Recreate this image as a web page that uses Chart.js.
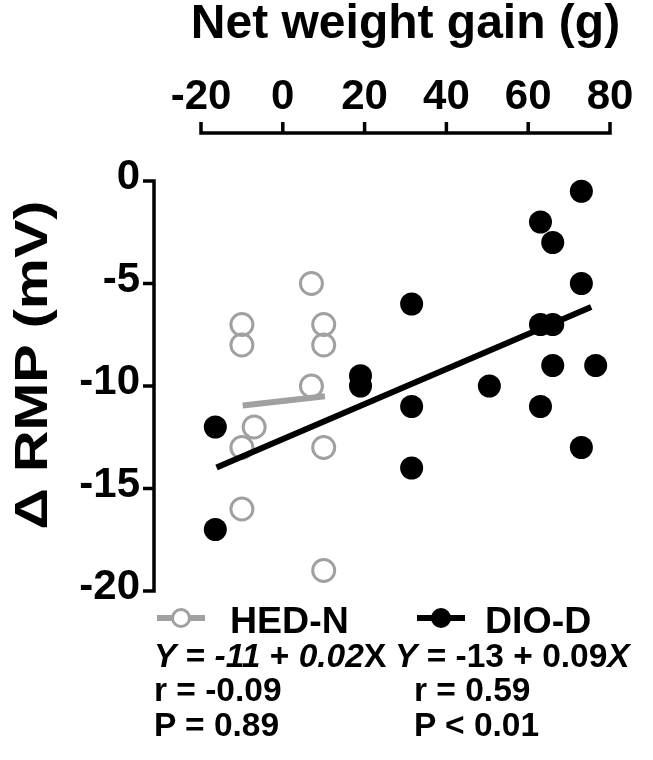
<!DOCTYPE html>
<html>
<head>
<meta charset="utf-8">
<script src="https://cdn.jsdelivr.net/npm/chart.js@4"></script>
<style>
  html, body { margin: 0; padding: 0; background: #fff; }
  #wrap { position: relative; width: 653px; height: 760px; overflow: hidden; }
  #wrap canvas { position: absolute; left: 0; top: 0; }
  .t { position: absolute; font-family: 'Liberation Sans', Arial, sans-serif; font-weight: bold; color: #000; white-space: nowrap; }
  .leg { font-size: 37.5px; line-height: 36px; }
  .st { font-size: 33.5px; line-height: 34px; }
  .mk { position: absolute; }
</style>
</head>
<body>
<div id="wrap">
  <canvas id="chart" width="653" height="760"></canvas>

  <svg class="mk" style="left:157px;top:606px" width="48" height="24">
    <line x1="0" y1="12" x2="48" y2="12" stroke="#a0a0a0" stroke-width="6"/>
    <circle cx="24" cy="12" r="8.5" fill="#fff" stroke="#a0a0a0" stroke-width="3"/>
  </svg>
  <div class="t leg" style="left:230px;top:602px">HED-N</div>
  <svg class="mk" style="left:417px;top:606px" width="48" height="24">
    <line x1="0" y1="12" x2="48" y2="12" stroke="#000" stroke-width="6"/>
    <circle cx="24" cy="12" r="10" fill="#000"/>
  </svg>
  <div class="t leg" style="left:485px;top:602px">DIO-D</div>

  <div class="t st" style="left:154px;top:639px"><i>Y</i> = <i>-11</i> + <i>0.02</i>X</div>
  <div class="t st" style="left:154px;top:673px">r = -0.09</div>
  <div class="t st" style="left:154px;top:708px">P = 0.89</div>

  <div class="t st" style="left:395px;top:639px"><i>Y</i> = -13 + 0.09<i>X</i></div>
  <div class="t st" style="left:414px;top:673px">r = 0.59</div>
  <div class="t st" style="left:414px;top:708px">P &lt; 0.01</div>
</div>

<script>
// HED-N (open grey circles)
const hedX = [7, -10, -10, 10, 10, 7, -7, -10, 10, -10, 10];
const hedY = [-5, -7, -8, -7, -8, -10, -12, -13, -13, -16, -19];
// DIO-D (filled black circles)
const dioX = [-16.5, -16.5, 19, 19, 73, 63, 66, 73, 31.5, 63, 66, 66, 76.5, 50.5, 31.5, 63, 73, 31.5];
const dioY = [-12, -17, -9.5, -10, -0.5, -2, -3, -5, -6, -7, -7, -9, -9, -10, -11, -11, -13, -14];
// regression lines (end points)
const hedFitX = [-9.8, 10.3];
const hedFitY = [-10.95, -10.5];
const dioFitX = [-16.2, 75.4];
const dioFitY = [-13.97, -6.15];

const xTicks = {min: -20, max: 80, step: 20};
const yTicks = {min: -20, max: 0, step: 5};
const xTitle = 'Net weight gain (g)';
const yTitle = 'Δ RMP (mV)';

const GREY = '#a0a0a0';
const FONT = "'Liberation Sans', Arial, sans-serif";

const pts = (xs, ys) => xs.map((x, i) => ({x, y: ys[i]}));

// Prism-style offset axes + axis titles
const prismAxes = {
  id: 'prismAxes',
  beforeDatasetsDraw(chart) {
    const {ctx, chartArea, scales: {x, y}} = chart;
    const xLineY = chartArea.top - 48;
    const yLineX = chartArea.left - 47;
    const tick = 11;
    ctx.save();
    ctx.strokeStyle = '#000';
    ctx.lineWidth = 3.5;
    ctx.lineJoin = 'miter';
    ctx.lineCap = 'butt';

    const x0 = x.getPixelForValue(xTicks.min), x1 = x.getPixelForValue(xTicks.max);
    ctx.beginPath();
    ctx.moveTo(x0, xLineY - tick);
    ctx.lineTo(x0, xLineY);
    ctx.lineTo(x1, xLineY);
    ctx.lineTo(x1, xLineY - tick);
    x.ticks.slice(1, -1).forEach((t) => {
      const px = x.getPixelForValue(t.value);
      ctx.moveTo(px, xLineY);
      ctx.lineTo(px, xLineY - tick);
    });
    ctx.stroke();

    const y0 = y.getPixelForValue(yTicks.max), y1 = y.getPixelForValue(yTicks.min);
    ctx.beginPath();
    ctx.moveTo(yLineX - tick, y0);
    ctx.lineTo(yLineX, y0);
    ctx.lineTo(yLineX, y1);
    ctx.lineTo(yLineX - tick, y1);
    y.ticks.slice(1, -1).forEach((t) => {
      const py = y.getPixelForValue(t.value);
      ctx.moveTo(yLineX, py);
      ctx.lineTo(yLineX - tick, py);
    });
    ctx.stroke();

    ctx.fillStyle = '#000';
    ctx.textAlign = 'center';
    ctx.textBaseline = 'alphabetic';

    // top title
    ctx.font = `bold 48px ${FONT}`;
    ctx.fillText(xTitle, (x0 + x1) / 2, 38);

    // left title, rotated and a little wider like the original
    ctx.translate(47, 365);
    ctx.rotate(-Math.PI / 2);
    ctx.scale(1.25, 1);
    ctx.font = `bold 46px ${FONT}`;
    ctx.fillText(yTitle, 0, 0);
    ctx.restore();
  },
};

new Chart(document.getElementById('chart'), {
  type: 'scatter',
  data: {
    datasets: [
      {
        label: 'DIO-D',
        data: pts(dioX, dioY),
        pointRadius: 11.5,
        pointBorderWidth: 0,
        backgroundColor: '#000',
        borderColor: '#000',
        clip: false,
      },
      {
        label: 'DIO-D fit',
        data: pts(dioFitX, dioFitY),
        showLine: true,
        pointRadius: 0,
        borderColor: '#000',
        borderWidth: 6,
        clip: false,
      },
      {
        label: 'HED-N fit',
        data: pts(hedFitX, hedFitY),
        showLine: true,
        pointRadius: 0,
        borderColor: GREY,
        borderWidth: 6,
        clip: false,
      },
      {
        label: 'HED-N',
        data: pts(hedX, hedY),
        pointRadius: 11,
        pointBorderWidth: 3,
        backgroundColor: 'rgba(0,0,0,0)',
        borderColor: GREY,
        clip: false,
      },
    ],
  },
  options: {
    responsive: false,
    animation: false,
    devicePixelRatio: 1,
    layout: {padding: {left: 0, top: 0, right: 43, bottom: 169}},
    plugins: {legend: {display: false}, tooltip: {enabled: false}},
    scales: {
      x: {
        type: 'linear',
        position: 'top',
        min: xTicks.min,
        max: xTicks.max,
        ticks: {
          stepSize: xTicks.step,
          padding: 0,
          color: '#000',
          maxRotation: 0,
          font: {family: FONT, size: 42, weight: 'bold', lineHeight: 1.2},
        },
        grid: {display: false, drawTicks: true, tickLength: 58},
        border: {display: false},
        afterFit: (s) => { s.height = 181; },
      },
      y: {
        type: 'linear',
        position: 'left',
        min: yTicks.min,
        max: yTicks.max,
        ticks: {
          stepSize: yTicks.step,
          padding: 0,
          labelOffset: -3.5,
          color: '#000',
          font: {family: FONT, size: 42, weight: 'bold', lineHeight: 1.2},
        },
        grid: {display: false, drawTicks: true, tickLength: 61},
        border: {display: false},
        afterFit: (s) => { s.width = 201; },
      },
    },
  },
  plugins: [prismAxes],
});
</script>
</body>
</html>
